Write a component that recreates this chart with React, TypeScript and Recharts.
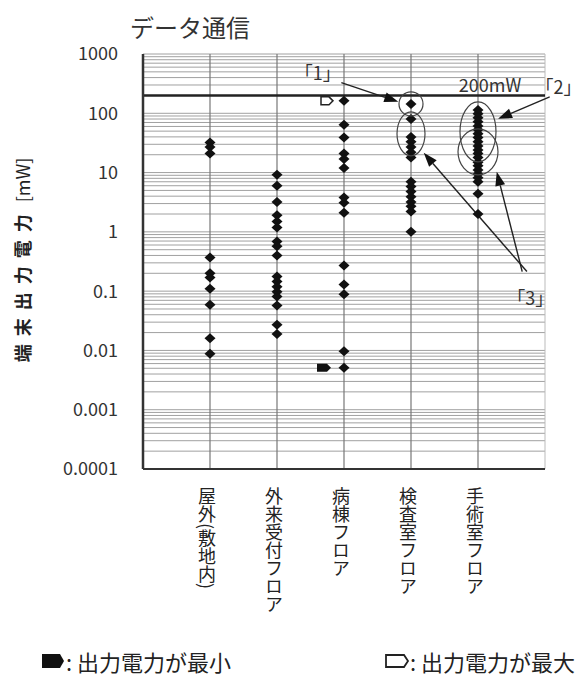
import { ScatterChart, Scatter, XAxis, YAxis, ReferenceLine, ReferenceDot } from 'recharts';

const categories = ['屋外(敷地内)', '外来受付フロア', '病棟フロア', '検査室フロア', '手術室フロア'];

// 端末出力電力 [mW]
const outdoor = [32, 27, 21, 0.37, 0.2, 0.17, 0.11, 0.059, 0.016, 0.0088];
const reception = [9.2, 6.0, 3.2, 1.9, 1.5, 1.18, 0.69, 0.57, 0.4, 0.176, 0.145, 0.119, 0.098, 0.081, 0.057, 0.027, 0.019];
const ward = [162, 64, 39, 21, 17, 12, 3.8, 3.1, 2.1, 0.27, 0.13, 0.089, 0.0097, 0.0051];
const exam = [144, 80, 40, 33, 27, 22, 18, 7.0, 5.8, 4.8, 3.9, 3.2, 2.7, 2.2, 1.0];
const surgery = [114, 98, 84, 72, 61, 53, 45, 39, 33, 28, 24, 21, 18, 15, 13, 11, 9.5, 8.2, 7.0, 4.4, 2.0];

const yTicks = [0.0001, 0.001, 0.01, 0.1, 1, 10, 100, 1000];
const limit = 200;

// min / max output markers (category index, value)
const maxMarks = [{ x: 3, y: 162 }];
const minMarks = [{ x: 3, y: 0.0051 }];

const series = [outdoor, reception, ward, exam, surgery];
const points = series.flatMap((vals, i) => vals.map((v) => ({ x: i + 1, y: v })));

// log grid: 1..9 in each decade
const minorLines: number[] = [];
yTicks.slice(0, -1).forEach((d) => {
  for (let k = 1; k < 10; k++) minorLines.push(+(d * k).toPrecision(3));
});
minorLines.push(1000);

const FONT = '"Noto Sans CJK JP", "Noto Sans", sans-serif';

const Diamond = (p: any) => (
  <polygon
    points={`${p.cx},${p.cy - 5} ${p.cx + 5.5},${p.cy} ${p.cx},${p.cy + 5} ${p.cx - 5.5},${p.cy}`}
    fill="#111"
  />
);

const pentagon = (x: number, y: number, w: number, h: number) =>
  `M${x},${y - h} L${x + w - 4},${y - h} L${x + w},${y} L${x + w - 4},${y + h} L${x},${y + h} Z`;

const ellipse = (rx: number, ry: number) => (p: any) => (
  <ellipse cx={p.cx} cy={p.cy} rx={rx} ry={ry} fill="none" stroke="#444" strokeWidth={1.2} />
);

const note = (txt: string, size: number) => (p: any) => (
  <text x={p.cx} y={p.cy} fontSize={size} fill="#333" textAnchor="middle" dominantBaseline="central" fontFamily={FONT}>
    {txt}
  </text>
);

const arrow = (p: any) => {
  const { x1, y1, x2, y2 } = p;
  const a = Math.atan2(y2 - y1, x2 - x1);
  const L = 14;
  const W = 5;
  const bx = x2 - L * Math.cos(a);
  const by = y2 - L * Math.sin(a);
  const px = -Math.sin(a) * W;
  const py = Math.cos(a) * W;
  return (
    <g>
      <line x1={x1} y1={y1} x2={bx} y2={by} stroke="#222" strokeWidth={1.4} />
      <polygon points={`${x2},${y2} ${bx + px},${by + py} ${bx - px},${by - py}`} fill="#111" />
    </g>
  );
};

const XTick = (p: any) => {
  const name = categories[Math.round(p.payload.value) - 1];
  if (!name) return null;
  return (
    <text
      x={p.x - 3}
      y={487}
      fontSize={18}
      fill="#222"
      fontFamily={FONT}
      style={{ writingMode: 'vertical-rl' }}
    >
      {name}
    </text>
  );
};

const fmt = (v: number) => String(v);

export default function App() {
  return (
    <div style={{ position: 'absolute', left: 0, top: 0, width: 584, height: 677, background: '#fff', fontFamily: FONT }}>
      <div style={{ position: 'absolute', left: 130, top: 9, fontSize: 24, color: '#333' }}>データ通信</div>
      <div
        style={{
          position: 'absolute',
          left: 22 - 120,
          top: 260 - 12,
          width: 240,
          height: 24,
          lineHeight: '24px',
          transform: 'rotate(-90deg)',
          fontSize: 18,
          color: '#222',
          textAlign: 'center',
          whiteSpace: 'nowrap',
        }}
      >
        <b style={{ letterSpacing: 8 }}>端末出力電力</b> [mW]
      </div>
      <ScatterChart width={584} height={677} margin={{ top: 54, right: 39, left: 83, bottom: 58 }}>
        <XAxis
          type="number"
          dataKey="x"
          domain={[0, 6]}
          ticks={[1, 2, 3, 4, 5]}
          height={150}
          tick={<XTick />}
          tickLine={false}
          axisLine={{ stroke: '#333', strokeWidth: 2 }}
          allowDataOverflow
        />
        <YAxis
          type="number"
          dataKey="y"
          scale="log"
          domain={[0.0001, 1000]}
          ticks={yTicks}
          tickFormatter={fmt}
          width={60}
          tickLine={false}
          tickSize={0}
          tickMargin={25}
          tick={{ fontSize: 18, fill: '#333', fontFamily: FONT }}
          axisLine={{ stroke: '#333', strokeWidth: 2.5 }}
          allowDataOverflow
        />
        {minorLines.map((v) => (
          <ReferenceLine key={'g' + v} y={v} stroke="#a0a0a0" strokeWidth={1} />
        ))}
        <ReferenceLine x={6} stroke="#bbb" />
        {[1, 2, 3, 4, 5].map((c) => (
          <ReferenceLine key={'c' + c} x={c} stroke="#777" strokeWidth={1.2} />
        ))}
        <ReferenceLine y={limit} stroke="#222" strokeWidth={2.5} />
        <Scatter data={points} shape={Diamond} isAnimationActive={false} />
        {maxMarks.map((m, i) => (
          <ReferenceDot
            key={'mx' + i}
            x={m.x}
            y={m.y}
            shape={(p: any) => <path d={pentagon(p.cx - 23, p.cy, 12, 4)} fill="#fff" stroke="#222" strokeWidth={1.5} />}
          />
        ))}
        {minMarks.map((m, i) => (
          <ReferenceDot
            key={'mn' + i}
            x={m.x}
            y={m.y}
            shape={(p: any) => <path d={pentagon(p.cx - 27, p.cy, 14, 4)} fill="#111" />}
          />
        ))}
        <ReferenceDot x={4} y={144} shape={ellipse(12, 12)} />
        <ReferenceDot x={4} y={45} shape={ellipse(14, 22)} />
        <ReferenceDot x={5} y={48.6} shape={ellipse(18, 30)} />
        <ReferenceDot x={5} y={22.4} shape={ellipse(20, 23)} />
        <ReferenceLine segment={[{ x: 2.96, y: 330 }, { x: 3.81, y: 156 }]} shape={arrow} ifOverflow="visible" />
        <ReferenceLine segment={[{ x: 6.07, y: 189 }, { x: 5.3, y: 80.5 }]} shape={arrow} ifOverflow="visible" />
        <ReferenceLine segment={[{ x: 5.73, y: 0.214 }, { x: 4.19, y: 21.5 }]} shape={arrow} ifOverflow="visible" />
        <ReferenceLine segment={[{ x: 5.66, y: 0.214 }, { x: 5.28, y: 10.3 }]} shape={arrow} ifOverflow="visible" />
        <ReferenceDot x={2.61} y={497} shape={note('「1」', 18)} ifOverflow="visible" />
        <ReferenceDot x={5.18} y={312} shape={note('200mW', 18)} ifOverflow="visible" />
        <ReferenceDot x={6.2} y={289} shape={note('「2」', 18)} ifOverflow="visible" />
        <ReferenceDot x={5.78} y={0.081} shape={note('「3」', 18)} ifOverflow="visible" />
      </ScatterChart>
      <div style={{ position: 'absolute', left: 40, top: 645, fontSize: 22, color: '#222', display: 'flex', alignItems: 'center' }}>
        <svg width={26} height={16}>
          <path d={pentagon(2, 8, 22, 7)} fill="#111" />
        </svg>
        <span>: 出力電力が最小</span>
      </div>
      <div style={{ position: 'absolute', left: 384, top: 645, fontSize: 22, color: '#222', display: 'flex', alignItems: 'center' }}>
        <svg width={26} height={16}>
          <path d={pentagon(2, 8, 22, 6)} fill="#fff" stroke="#222" strokeWidth={1.8} />
        </svg>
        <span>: 出力電力が最大</span>
      </div>
    </div>
  );
}
